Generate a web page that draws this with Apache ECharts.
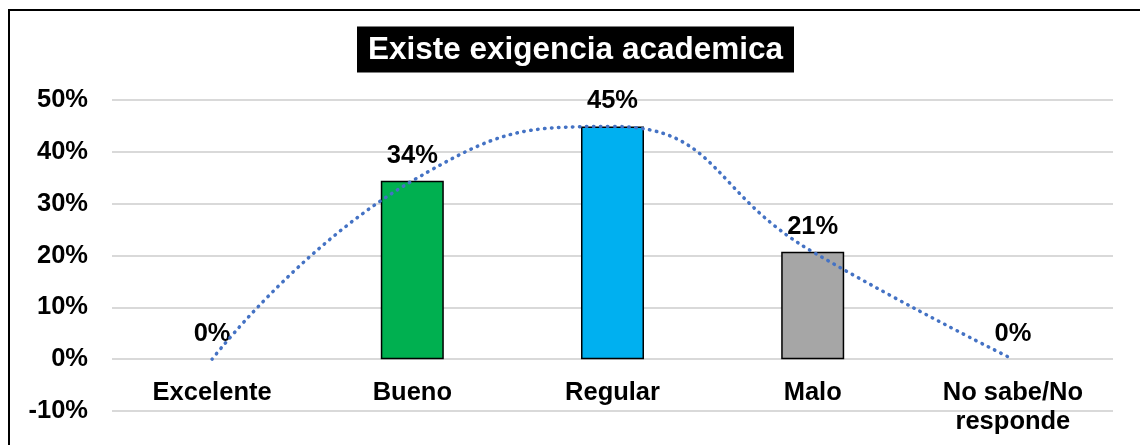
<!DOCTYPE html>
<html>
<head>
<meta charset="utf-8">
<title>Existe exigencia academica</title>
<script src="https://cdn.jsdelivr.net/npm/echarts@6/dist/echarts.min.js"></script>
<style>
  html, body { margin: 0; padding: 0; background: #fff; }
  #chart { width: 1140px; height: 445px; }
</style>
</head>
<body>
<div id="chart"></div>
<script>
// datos
const categorias = ['Excelente', 'Bueno', 'Regular', 'Malo', 'No sabe/No\nresponde'];
const porcentajes = [0, 34.4, 44.9, 20.7, 0];
const coloresBarra = ['#00B050', '#00B050', '#00B0F0', '#A6A6A6', '#A6A6A6'];
const ticksY = { min: -10, max: 50, interval: 10 };

const fuente = '"Liberation Sans", Arial, sans-serif';

const chart = echarts.init(document.getElementById('chart'));

const option = {
  backgroundColor: '#fff',
  animation: false,
  title: {
    text: 'Existe exigencia academica',
    left: 357,
    top: 27,
    padding: [8, 11, 6, 11],
    backgroundColor: '#000',
    textStyle: { color: '#fff', fontFamily: fuente, fontWeight: 'bold', fontSize: 31.5, lineHeight: 31 }
  },
  // marco del area del grafico
  graphic: [{
    type: 'rect',
    shape: { x: 9, y: 10, width: 1200, height: 500 },
    style: { fill: 'none', stroke: '#000', lineWidth: 2 },
    silent: true
  }],
  grid: { left: 112, right: 27, top: 100, bottom: 34, outerBoundsMode: 'none', containLabel: false },
  xAxis: {
    type: 'category',
    data: categorias,
    axisLine: { show: false, onZero: false },
    axisTick: { show: false },
    // etiquetas justo debajo de la linea del 0%
    axisLabel: {
      color: '#000', fontFamily: fuente, fontWeight: 'bold', fontSize: 25.5,
      lineHeight: 29, margin: -33, interval: 0
    }
  },
  yAxis: {
    type: 'value',
    min: ticksY.min,
    max: ticksY.max,
    interval: ticksY.interval,
    axisLine: { show: false },
    axisTick: { show: false },
    splitLine: { lineStyle: { color: '#D9D9D9', width: 2 } },
    axisLabel: {
      color: '#000', fontFamily: fuente, fontWeight: 'bold', fontSize: 25.5,
      margin: 24, formatter: '{value}%'
    }
  },
  series: [
    {
      type: 'bar',
      barWidth: 63,
      data: porcentajes.map((v, i) => ({
        value: v,
        itemStyle: { color: coloresBarra[i], borderColor: '#000', borderWidth: v === 0 ? 0 : 1.5 }
      })),
      label: {
        show: true,
        position: 'top',
        distance: 12,
        color: '#000', fontFamily: fuente, fontWeight: 'bold', fontSize: 25.5,
        formatter: p => Math.round(p.value) + '%'
      },
      z: 2
    },
    {
      // linea de tendencia punteada
      type: 'line',
      data: porcentajes,
      smooth: 0.5,
      symbol: 'none',
      lineStyle: { color: '#4472C4', width: 3.5, type: [0.5, 6.5], cap: 'round' },
      z: 5,
      silent: true
    }
  ]
};

chart.setOption(option);
</script>
</body>
</html>
